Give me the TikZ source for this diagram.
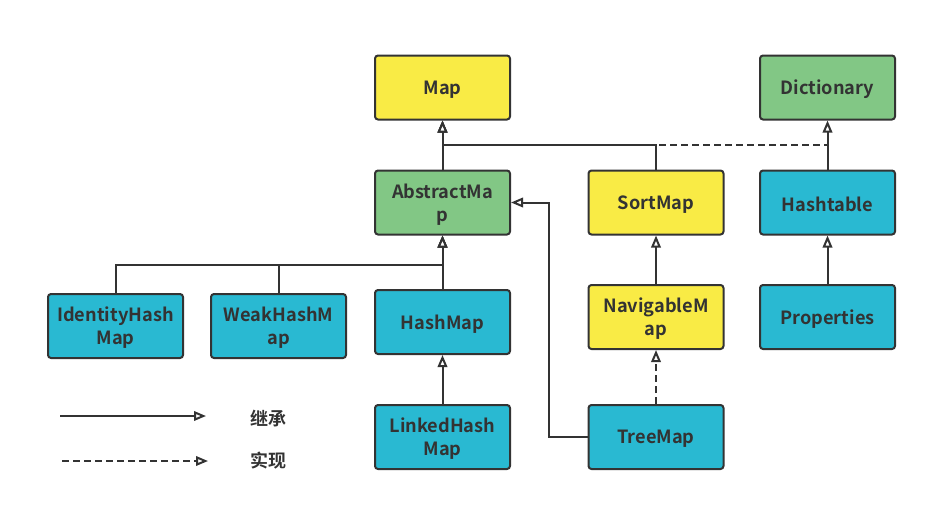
\documentclass[tikz,border=0pt]{standalone}
\usepackage{fontspec}
\setmainfont{Noto Sans CJK SC}[BoldFont={* Bold}]
\usetikzlibrary{arrows.meta}
\definecolor{cyl}{HTML}{F9EB45}
\definecolor{cgr}{HTML}{82C785}
\definecolor{ccy}{HTML}{29B9D2}
\definecolor{cdk}{HTML}{333333}
\begin{document}
\begin{tikzpicture}[x=1pt,y=-1pt,
  txt/.style={align=center, inner sep=0pt, yshift=-2pt, font=\fontsize{18.2}{23}\selectfont\bfseries, text=cdk},
  box/.style={draw=cdk, line width=2pt, rounded corners=3pt, minimum width=135pt, minimum height=64pt, inner sep=0pt, label={[txt]center:#1}},
  ybox/.style={box=#1, fill=cyl},
  gbox/.style={box=#1, fill=cgr},
  cbox/.style={box=#1, fill=ccy},
  inh/.style={draw=cdk, line width=2pt, -{Triangle[open, length=12pt, width=9.5pt, fill=white]}},
  impl/.style={inh, dash pattern=on 7pt off 4pt},
  lbl/.style={font=\fontsize{18}{22}\selectfont\bfseries, text=cdk}
]
\useasboundingbox (0,0) rectangle (925,522);
% nodes
\node[ybox=Map] (map) at (442.5,87.5) {};
\node[gbox=Dictionary] (dict) at (827.5,87.5) {};
\node[gbox=AbstractMa\\p] (abs) at (442.5,202.5) {};
\node[ybox=SortMap] (sort) at (656,202.5) {};
\node[cbox=Hashtable] (htab) at (827.5,202.5) {};
\node[cbox=IdentityHash\\Map] (ihm) at (115.5,326) {};
\node[cbox=WeakHashM\\ap] (whm) at (278.5,326) {};
\node[cbox=HashMap] (hm) at (442.5,322) {};
\node[ybox=NavigableM\\ap] (nav) at (656,317) {};
\node[cbox=Properties] (prop) at (827.5,317) {};
\node[cbox=LinkedHash\\Map] (lhm) at (442.5,437) {};
\node[cbox=TreeMap] (tree) at (656,437) {};
% connectors
\draw[impl] (htab.north) -- ++(0,-25) -| (map.south);
\draw[inh] (sort.north) |- (442.5,145) -- (map.south);
\draw[inh] (abs.north) -- (map.south);
\draw[inh] (htab.north) -- (dict.south);
\draw[inh] (ihm.north) |- (442.5,265) -- (abs.south);
\draw[inh] (whm.north) |- (442.5,265) -- (abs.south);
\draw[inh] (hm.north) -- (abs.south);
\draw[inh] (lhm.north) -- (hm.south);
\draw[inh] (tree.west) -- (549,437) |- (abs.east);
\draw[inh] (nav.north) -- (sort.south);
\draw[impl] (tree.north) -- (nav.south);
\draw[inh] (prop.north) -- (htab.south);
% legend
\coordinate (l1a) at (60,416);
\coordinate (l1b) at (206,416);
\coordinate (l2a) at (62,461);
\coordinate (l2b) at (208,461);
\draw[inh] (l1a) -- (l1b);
\draw[impl] (l2a) -- (l2b);
\node[lbl] (t1) at (268,419) {继承};
\node[lbl] (t2) at (268,461) {实现};
\end{tikzpicture}
\end{document}
